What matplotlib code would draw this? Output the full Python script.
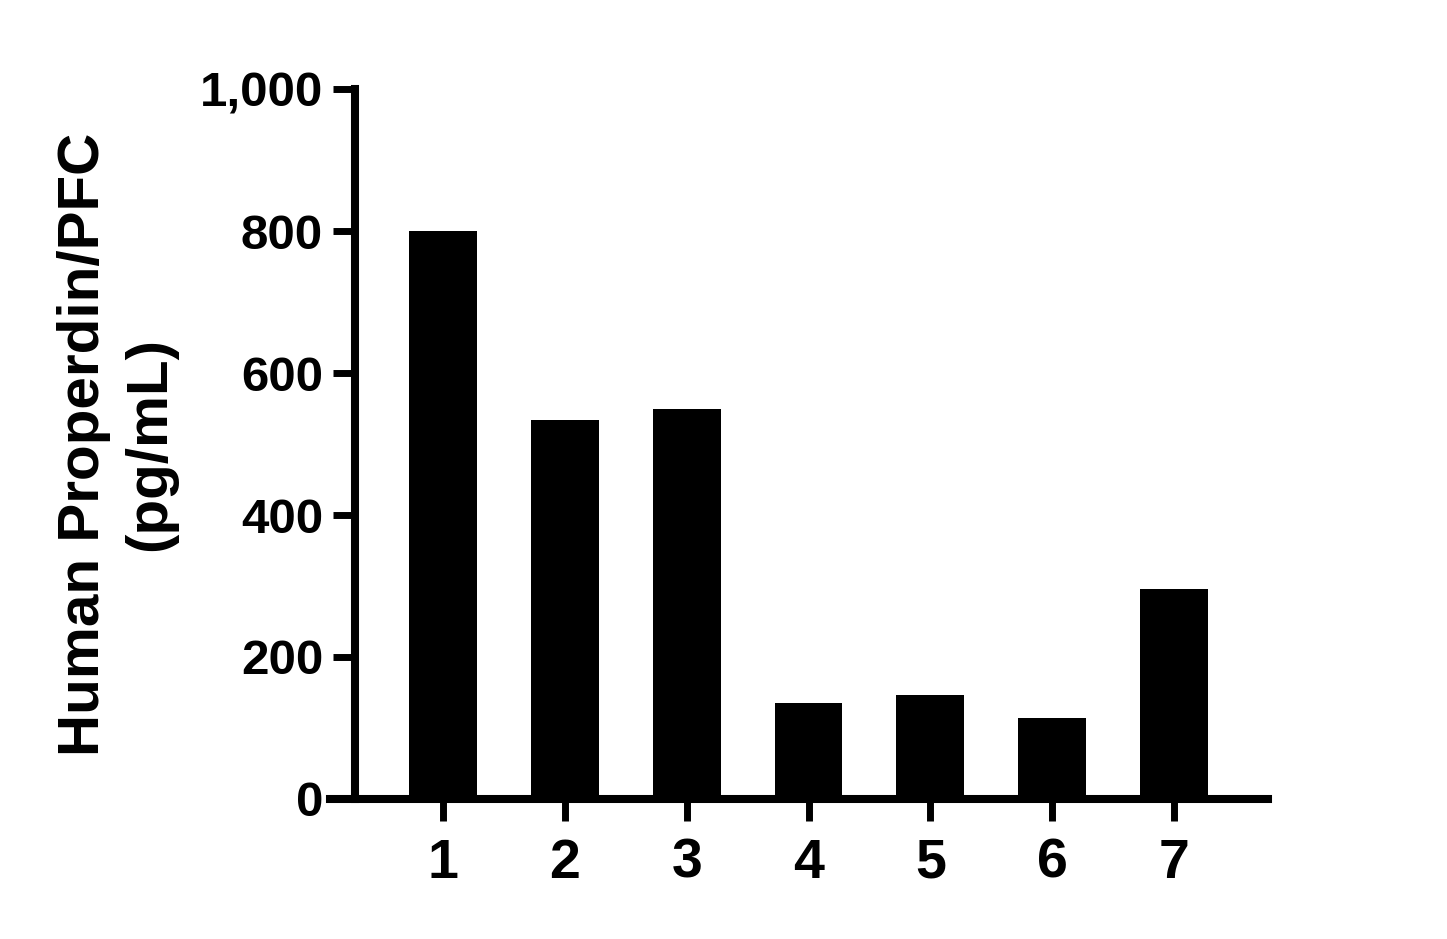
import matplotlib
matplotlib.use("Agg")
import matplotlib.pyplot as plt
from matplotlib.ticker import StrMethodFormatter

# values
samples = ["1", "2", "3", "4", "5", "6", "7"]
properdin = [800, 534, 549, 135, 146, 114, 296]
y_ticks = [0, 200, 400, 600, 800, 1000]

plt.rcParams["font.family"] = ["Liberation Sans", "DejaVu Sans"]
plt.rcParams["font.weight"] = "bold"

fig = plt.figure(figsize=(14.47, 9.39), dpi=100)
ax = fig.add_axes([0.2281, 0.1491, 0.6482, 0.7561])

xs = list(range(1, len(samples) + 1))
ax.bar(xs, properdin, width=0.557, color="black", zorder=3)

ax.set_xlim(0.074, 7.77)
ax.set_ylim(0, 1000)
ax.set_xticks(xs)
ax.set_xticklabels(samples)
ax.set_yticks(y_ticks)
ax.yaxis.set_major_formatter(StrMethodFormatter("{x:,.0f}"))

for side in ["top", "right"]:
    ax.spines[side].set_visible(False)
ax.spines["left"].set_position(("data", 0.279))
for side in ["left", "bottom"]:
    ax.spines[side].set_linewidth(5.8)
    ax.spines[side].set_capstyle("projecting")

ax.tick_params(axis="both", length=16, width=5, color="black")
ax.tick_params(axis="y", labelsize=35.5, pad=7)
ax.tick_params(axis="x", labelsize=40, pad=12)
for lab in ax.get_xticklabels() + ax.get_yticklabels():
    lab.set_fontweight("bold")

ax.set_ylabel("Human Properdin/PFC\n(pg/mL)", fontsize=42, fontweight="bold",
              linespacing=1.3)
ax.yaxis.set_label_coords(-0.163, 0.5)

fig.savefig("out.png", dpi=100)
